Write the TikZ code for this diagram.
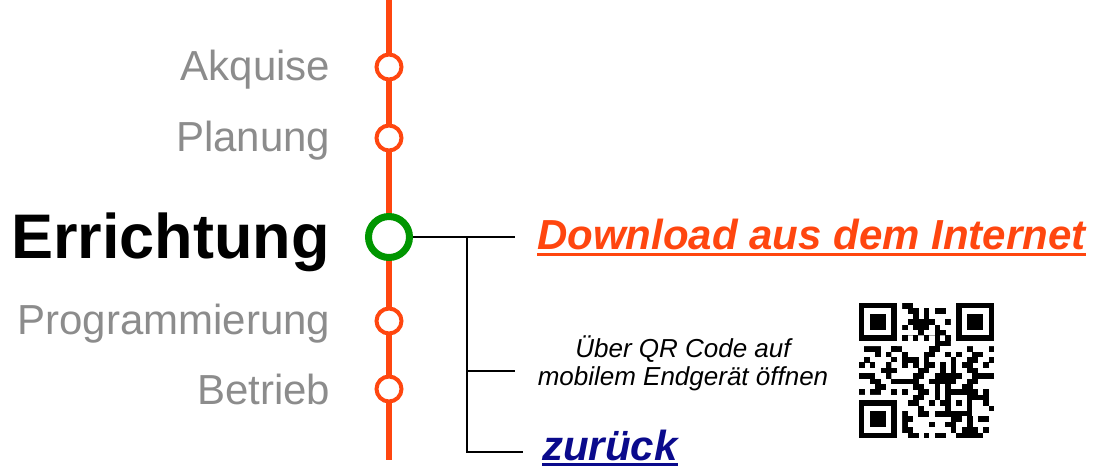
\documentclass[tikz,border=0pt]{standalone}
\usepackage{fontspec}
\setmainfont{Liberation Sans}
\usetikzlibrary{positioning}

\definecolor{trackorange}{RGB}{255,70,15}
\definecolor{stopgreen}{RGB}{0,150,0}
\definecolor{phasegray}{RGB}{140,140,140}
\definecolor{linknavy}{RGB}{10,10,140}

% text with a thick underline: #1 = drop below baseline
\newcommand\ulinetext[2]{\setbox0\hbox{#2}\rlap{\rule[-#1]{\wd0}{3pt}}\box0}

\begin{document}
\begin{tikzpicture}[x=1pt, y=-1pt,
    track/.style={draw=trackorange, line width=6.5pt},
    stop/.style={circle, draw=trackorange, fill=white, line width=4pt, minimum size=25pt, inner sep=0pt},
    current/.style={circle, draw=stopgreen, fill=white, line width=7pt, minimum size=41pt, inner sep=0pt},
    phase/.style={font=\fontsize{42}{46}\selectfont, text=phasegray, inner sep=0pt, text height=30pt, text depth=0pt},
    wire/.style={draw=black, line width=2pt},
    link/.style={font=\bfseries\itshape\fontsize{42}{46}\selectfont, inner sep=0pt},
    hint/.style={font=\itshape\fontsize{26}{28}\selectfont, align=center, inner sep=0pt}]
        \useasboundingbox (0,0) rectangle (1097,472);

        % the track with its stops
        \coordinate (track-top) at (389,0);
        \coordinate (track-bottom) at (389,460);
        \draw[track] (track-top) -- (track-bottom);
        \node (akquise) [stop] at (389,67) {};
        \node (planung) [stop] at (389,138) {};
        \node (errichtung) [current] at (389,237) {};
        \node (programmierung) [stop] at (389,321) {};
        \node (betrieb) [stop] at (389,389) {};

        \node (akquise-label) [phase, left=44pt of akquise, yshift=2pt] {Akquise};
        \node (planung-label) [phase, left=44pt of planung, yshift=2pt] {Planung};
        \node (errichtung-label) [phase, font=\bfseries\fontsize{63}{70}\selectfont, text=black, text height=45pt, left=35pt of errichtung, yshift=1pt] {Errichtung};
        \node (programmierung-label) [phase, left=44pt of programmierung, yshift=2pt] {Programmierung};
        \node (betrieb-label) [phase, left=44pt of betrieb] {Betrieb};

        % branches
        \coordinate (branch-top) at (467,237);
        \coordinate (branch-mid) at (467,371);
        \coordinate (branch-bottom) at (467,452);
        \coordinate (download-end) at (515,237);
        \coordinate (hint-end) at (515,371);
        \coordinate (back-end) at (523,452);

        \draw[wire] (errichtung) -- (download-end);
        \draw[wire] (branch-top) -- (branch-bottom) -- (back-end);
        \draw[wire] (branch-mid) -- (hint-end);

        \node (download) [link, text=trackorange, anchor=base west] at (537,249) {\ulinetext{7pt}{Download aus dem Internet}};
        \node (hint) [hint] at (683,363) {Über QR Code auf\\mobilem Endgerät öffnen};
        \node (back) [link, text=linknavy, anchor=base west] at (542,460) {\ulinetext{6pt}{zurück}};

        % QR code
        \begin{scope}[shift={(859,303)}, x=5.4pt, y=-5.4pt]
            \foreach \r in {0,...,24}
                \foreach \c in {0,...,24}{
                    \pgfmathtruncatemacro\qrbit{mod(\c*\c*5+\r*\r*3+\c*\r*11+\c*7+\r*13,23)}
                    \ifnum\qrbit<11 \fill (\c,\r) rectangle ++(1.02,1.02);\fi
                }
            \fill[white] (0,0) rectangle (8,8) (17,0) rectangle (25,8) (0,17) rectangle (8,25);
            \foreach \fx/\fy in {0/0,18/0,0/18}{
                \fill (\fx,\fy) rectangle ++(7,7);
                \fill[white] (\fx+1,\fy+1) rectangle ++(5,5);
                \fill (\fx+2,\fy+2) rectangle ++(3,3);
            }
            \fill[white] (8,6) rectangle (17,7) (6,8) rectangle (7,17);
            \foreach \t in {8,10,...,16}{
                \fill (\t,6) rectangle ++(1,1);
                \fill (6,\t) rectangle ++(1,1);
            }
            \fill (16,16) rectangle ++(5,5);
            \fill[white] (17,17) rectangle ++(3,3);
            \fill (18,18) rectangle ++(1,1);
        \end{scope}
    \end{tikzpicture}
\end{document}
